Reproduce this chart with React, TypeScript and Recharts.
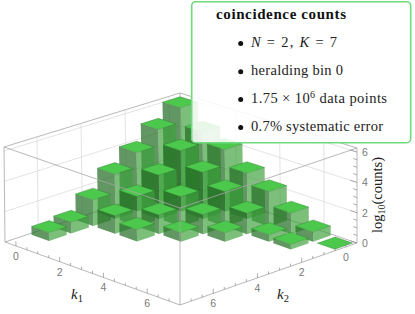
import React from "react";
import { ScatterChart, Scatter, XAxis, YAxis } from "recharts";

const W = 415;
const H = 314;

// values: log10(counts) per (k1, k2)
const k2Row0 = [6.1, 4.9, 4.2, 3.09, 2.35, 1.4, 0.64, 0];
const k2Row1 = [5.08, 4.13, 3.15, 2.35, 1.4, 0.47, 0.33];
const k2Row2 = [3.98, 2.95, 2.0, 1.3, 0.6];
const k2Row3 = [3.0, 2.0, 1.27, 0.6];
const k2Row4 = [1.75, 1.2, 0.8];
const k2Row5 = [0.75];
const k2Row6 = [0.55];
const rows = [k2Row0, k2Row1, k2Row2, k2Row3, k2Row4, k2Row5, k2Row6];

const kTicks = [0, 2, 4, 6];
const zTicks = [0, 2, 4, 6];
const kMinor = [0, 0.5, 1, 1.5, 2, 2.5, 3, 3.5, 4, 4.5, 5, 5.5, 6, 6.5, 7, 7.5];
const zMinor = [0, 0.5, 1, 1.5, 2, 2.5, 3, 3.5, 4, 4.5, 5, 5.5, 6];
const K_MIN = -0.5;
const K_MAX = 7.5;
const Z_MAX = 6.27;
const BAR = 0.4;

// view: corners of the plot box as seen on the page
const floor = { B: [182, 183], R: [357, 243], L: [5, 242], F: [180, 305] };
const ceil = { B: [180, 93], R: [357, 148], L: [4, 147], F: [180, 208] };

function bil(c: any, u: number, v: number) {
  const a = (1 - u) * (1 - v), b = u * (1 - v), d = (1 - u) * v, e = u * v;
  return [
    c.B[0] * a + c.R[0] * b + c.L[0] * d + c.F[0] * e,
    c.B[1] * a + c.R[1] * b + c.L[1] * d + c.F[1] * e,
  ];
}
function project(k1: number, k2: number, z: number) {
  const u = (k1 - K_MIN) / (K_MAX - K_MIN);
  const v = (k2 - K_MIN) / (K_MAX - K_MIN);
  const p = bil(floor, u, v);
  const q = bil(ceil, u, v);
  const t = z / Z_MAX;
  return { x: p[0] + (q[0] - p[0]) * t, y: p[1] + (q[1] - p[1]) * t };
}

const cells: any[] = [];
rows.forEach((r, k2) => r.forEach((z, k1) => cells.push({ k1, k2, z, ...project(k1, k2, 0) })));
cells.sort((a, b) => a.k1 + a.k2 - (b.k1 + b.k2));

type P3 = [number, number, number];
function edge(a: P3, b: P3, stroke: string, w = 0.8, op = 1) {
  const p = project(...a);
  const q = project(...b);
  return { x: p.x, y: p.y, dx: q.x - p.x, dy: q.y - p.y, stroke, w, op };
}
const GRID = "#dcdcdc";
const BOX = "#a6a6a6";

const backEdges: any[] = [
  edge([K_MIN, K_MAX, 0], [K_MIN, K_MIN, 0], BOX),
  edge([K_MIN, K_MIN, 0], [K_MAX, K_MIN, 0], BOX),
  edge([K_MIN, K_MIN, 0], [K_MIN, K_MIN, Z_MAX], BOX),
  edge([K_MIN, K_MAX, Z_MAX], [K_MIN, K_MIN, Z_MAX], BOX),
  edge([K_MIN, K_MIN, Z_MAX], [K_MAX, K_MIN, Z_MAX], BOX),
];
zTicks.forEach((z) => {
  if (z === 0) return;
  backEdges.push(edge([K_MIN, K_MAX, z], [K_MIN, K_MIN, z], GRID));
  backEdges.push(edge([K_MIN, K_MIN, z], [K_MAX, K_MIN, z], GRID));
});
kTicks.forEach((k) => {
  backEdges.push(edge([K_MIN, k, 0], [K_MIN, k, Z_MAX], GRID));
  backEdges.push(edge([k, K_MIN, 0], [k, K_MIN, Z_MAX], GRID));
});

const frontEdges: any[] = [
  edge([K_MIN, K_MAX, 0], [K_MAX, K_MAX, 0], BOX),
  edge([K_MAX, K_MAX, 0], [K_MAX, K_MIN, 0], BOX),
  edge([K_MIN, K_MAX, 0], [K_MIN, K_MAX, Z_MAX], BOX),
  edge([K_MAX, K_MIN, 0], [K_MAX, K_MIN, Z_MAX], BOX),
  edge([K_MAX, K_MAX, 0], [K_MAX, K_MAX, Z_MAX], BOX),
  edge([K_MIN, K_MAX, Z_MAX], [K_MAX, K_MAX, Z_MAX], BOX),
  edge([K_MAX, K_MAX, Z_MAX], [K_MAX, K_MIN, Z_MAX], BOX),
];
kMinor.forEach((k) => {
  if (k < 0 || k > 7) return;
  const major = kTicks.includes(k);
  const len = major ? 0.3 : 0.17;
  frontEdges.push(edge([k, K_MAX, 0], [k, K_MAX, len], "#8a8a8a", 0.7));
  frontEdges.push(edge([K_MAX, k, 0], [K_MAX, k, len], "#8a8a8a", 0.7));
});
zMinor.forEach((z) => {
  const major = zTicks.includes(z);
  const d = major ? 0.3 : 0.17;
  frontEdges.push(edge([K_MAX, K_MIN, z], [K_MAX - d, K_MIN, z], "#8a8a8a", 0.7));
});

const TICK_COLOR = "#7a7a7a";
const tickLabels = [
  ...kTicks.map((k) => {
    const p = project(k, K_MAX, 0);
    return { x: p.x, y: p.y, dx: 0, dy: 14, text: String(k) };
  }),
  ...kTicks.map((k) => {
    const p = project(K_MAX, k, 0);
    return { x: p.x, y: p.y, dx: 0, dy: 14, text: String(k) };
  }),
  ...zTicks.map((z) => {
    const p = project(K_MAX, K_MIN, z);
    return { x: p.x, y: p.y, dx: 8, dy: 4, text: String(z) };
  }),
];

const axisTitles = [
  { x: 77, y: 299, sym: "k", sub: "1" },
  { x: 283, y: 299, sym: "k", sub: "2" },
];
const zTitleAnchor = [{ x: 382, y: 195 }];

const TOP = "#4cc84c";
const LEFT = "rgb(38,110,38)";
const RIGHT = "rgb(60,160,60)";
const EDGE = "#2e6e2e";

const poly = (pts: { x: number; y: number }[]) => pts.map((p) => `${p.x},${p.y}`).join(" ");

function BarShape(props: any) {
  const { cx, cy, payload } = props;
  const { k1, k2, z } = payload;
  const c0 = project(k1, k2, 0);
  const at = (a: number, b: number, h: number) => {
    const p = project(k1 + a, k2 + b, h);
    return { x: cx + p.x - c0.x, y: cy + p.y - c0.y };
  };
  const topFace = [at(-BAR, -BAR, z), at(BAR, -BAR, z), at(BAR, BAR, z), at(-BAR, BAR, z)];
  const leftFace = [at(-BAR, BAR, z), at(BAR, BAR, z), at(BAR, BAR, 0), at(-BAR, BAR, 0)];
  const rightFace = [at(BAR, BAR, z), at(BAR, -BAR, z), at(BAR, -BAR, 0), at(BAR, BAR, 0)];
  return (
    <g>
      {z > 0 && <polygon points={poly(leftFace)} fill={LEFT} fillOpacity={0.72} stroke="none" />}
      {z > 0 && <polygon points={poly(rightFace)} fill={RIGHT} fillOpacity={0.68} stroke="none" />}
      <polygon points={poly(topFace)} fill={TOP} stroke={EDGE} strokeWidth={0.5} strokeOpacity={0.7} />
    </g>
  );
}
function EdgeShape(props: any) {
  const { cx, cy, payload } = props;
  return (
    <line x1={cx} y1={cy} x2={cx + payload.dx} y2={cy + payload.dy} stroke={payload.stroke} strokeWidth={payload.w} />
  );
}
function TickText(props: any) {
  const { cx, cy, payload } = props;
  return (
    <text x={cx + payload.dx} y={cy + payload.dy} textAnchor="middle" fontFamily="'Liberation Sans'" fontSize={10.5} fill={TICK_COLOR}>
      {payload.text}
    </text>
  );
}
function TitleText(props: any) {
  const { cx, cy, payload } = props;
  return (
    <text x={cx} y={cy} textAnchor="middle" fontFamily="'Liberation Serif'" fontSize={15} fill="#222">
      <tspan fontStyle="italic">{payload.sym}</tspan>
      <tspan fontSize={10.5} dy={2.5}>{payload.sub}</tspan>
    </text>
  );
}
function ZTitle(props: any) {
  const { cx, cy } = props;
  return (
    <text transform={`translate(${cx},${cy}) rotate(-90)`} textAnchor="middle" fontFamily="'Liberation Serif'" fontSize={14.5} fill="#222">
      log
      <tspan fontSize={10} dy={2.5}>10</tspan>
      <tspan dy={-2.5}>(counts)</tspan>
    </text>
  );
}

const legendTitle = "coincidence counts";
const legendY = [46.7, 75, 102.7, 130.7];

function LegendBox() {
  const serif = "'Liberation Serif'";
  return (
    <svg width={W} height={H} style={{ position: "absolute", left: 0, top: 0 }}>
      <rect x={191.7} y={1.7} width={219} height={141} rx={4} fill="#fff" fillOpacity={0.87} stroke="#6ddc7c" strokeWidth={1.6} />
      <text x={216} y={18.5} fontFamily={serif} fontWeight="bold" fontSize={15} fill="#111" textLength={130} lengthAdjust="spacing">
        {legendTitle}
      </text>
      {legendY.map((y) => (
        <circle key={y} cx={240.7} cy={y - 3.3} r={2.5} fill="#111" />
      ))}
      <g fontFamily={serif} fontSize={14.5} fill="#222">
        <text x={251} y={legendY[0]} textLength={86} lengthAdjust="spacing">
          <tspan fontStyle="italic">N</tspan> = 2, <tspan fontStyle="italic">K</tspan> = 7
        </text>
        <text x={251} y={legendY[1]} textLength={92} lengthAdjust="spacing">heralding bin 0</text>
        <text x={251} y={legendY[2]} textLength={136} lengthAdjust="spacing">
          1.75 × 10<tspan fontSize={10} dy={-5}>6</tspan>
          <tspan dy={5}> data points</tspan>
        </text>
        <text x={251} y={legendY[3]} textLength={132} lengthAdjust="spacing">0.7% systematic error</text>
      </g>
    </svg>
  );
}

export default function App() {
  return (
    <div style={{ position: "absolute", left: 0, top: 0, width: W, height: H }}>
      <ScatterChart width={W} height={H} margin={{ top: 0, right: 0, bottom: 0, left: 0 }}>
        <XAxis type="number" dataKey="x" domain={[0, W]} hide allowDataOverflow />
        <YAxis type="number" dataKey="y" domain={[0, H]} reversed hide allowDataOverflow />
        <Scatter data={backEdges} shape={EdgeShape} isAnimationActive={false} />
        <Scatter data={cells} shape={BarShape} isAnimationActive={false} />
        <Scatter data={frontEdges} shape={EdgeShape} isAnimationActive={false} />
        <Scatter data={tickLabels} shape={TickText} isAnimationActive={false} />
        <Scatter data={axisTitles} shape={TitleText} isAnimationActive={false} />
        <Scatter data={zTitleAnchor} shape={ZTitle} isAnimationActive={false} />
      </ScatterChart>
      <LegendBox />
    </div>
  );
}
